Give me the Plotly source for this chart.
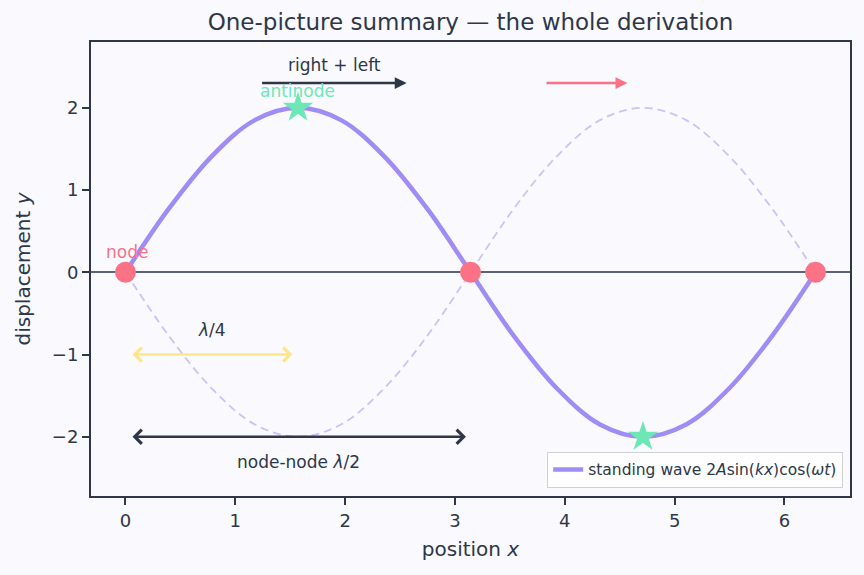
import plotly.graph_objects as go

# ---- data ----
x_samples = [0.0, 0.393, 0.785, 1.178, 1.571, 1.963, 2.356, 2.749, 3.142,
             3.534, 3.927, 4.320, 4.712, 5.105, 5.498, 5.890, 6.283]
standing = [0.0, 0.77, 1.41, 1.85, 2.0, 1.85, 1.41, 0.77, 0.0,
            -0.77, -1.41, -1.85, -2.0, -1.85, -1.41, -0.77, 0.0]
other_extreme = [0.0, -0.77, -1.41, -1.85, -2.0, -1.85, -1.41, -0.77, 0.0,
                 0.77, 1.41, 1.85, 2.0, 1.85, 1.41, 0.77, 0.0]
node_x = [0.0, 3.142, 6.283]
node_y = [0.0, 0.0, 0.0]
antinode_x = [1.571, 4.712]
antinode_y = [2.0, -2.0]
x_ticks = [0, 1, 2, 3, 4, 5, 6]
y_ticks = [-2, -1, 0, 1, 2]

DARK = "#2d3748"
PURPLE = "#a08cf5"
RED = "#fb7185"
GREEN = "#6ee7b7"
YELLOW = "#fde68a"
BG = "#f9f9fe"
FONT = "DejaVu Sans"

fig = go.Figure()
fig.add_trace(go.Scatter(x=x_samples, y=other_extreme, mode="lines",
                         line=dict(color="rgba(160,140,245,0.5)", width=1.8, dash="8px,5px", shape="spline"),
                         showlegend=False, hoverinfo="skip"))
fig.add_trace(go.Scatter(x=x_samples, y=standing, mode="lines",
                         line=dict(color=PURPLE, width=4.5, shape="spline"),
                         name="standing wave 2<i>A</i>sin(<i>kx</i>)cos(<i>ωt</i>)"))
fig.add_trace(go.Scatter(x=node_x, y=node_y, mode="markers",
                         marker=dict(color=RED, size=21, line=dict(width=0)),
                         showlegend=False))
fig.add_trace(go.Scatter(x=antinode_x, y=antinode_y, mode="markers",
                         marker=dict(color=GREEN, symbol="star", size=23, line=dict(width=0)),
                         showlegend=False))

anns = []
def arrow(x0, x1, y, color, width, head, both=False, size=1.0):
    anns.append(dict(x=x1, y=y, ax=x0, ay=y, xref="x", yref="y", axref="x", ayref="y",
                     showarrow=True, arrowhead=head, startarrowhead=head,
                     arrowside="end+start" if both else "end",
                     arrowwidth=width, arrowsize=size, startarrowsize=size,
                     arrowcolor=color, text="", standoff=0, startstandoff=0))

arrow(1.23, 2.56, 2.30, DARK, 2.5, 2, size=0.95)
arrow(3.82, 4.57, 2.30, RED, 2.5, 2, size=0.95)
arrow(0.05, 1.52, -1.0, YELLOW, 2.5, 4, both=True, size=1.1)
arrow(0.05, 3.10, -2.0, DARK, 2.5, 4, both=True, size=1.1)

def label(x, y, text, color, anchor="center", size=17):
    anns.append(dict(x=x, y=y, xref="x", yref="y", text=text, showarrow=False,
                     xanchor=anchor, yanchor="middle",
                     font=dict(family=FONT, size=size, color=color)))

label(1.90, 2.52, "right + left", DARK)
label(-0.20, 0.25, "node", RED, anchor="left")
label(1.21, 2.205, "antinode", GREEN, anchor="left")
label(0.79, -0.70, "<i>λ</i>/4", DARK)
label(1.575, -2.31, "node-node <i>λ</i>/2", DARK)

fig.update_layout(
    width=864, height=575,
    margin=dict(l=91, r=14, t=42, b=79),
    paper_bgcolor=BG, plot_bgcolor=BG,
    font=dict(family=FONT, color=DARK),
    title=dict(text="One-picture summary — the whole derivation",
               x=0.5, xref="paper", xanchor="center", y=0.962, yanchor="middle",
               font=dict(family=FONT, size=23, color=DARK)),
    annotations=anns,
    legend=dict(x=0.991, y=0.018, xanchor="right", yanchor="bottom",
                bgcolor="rgba(255,255,255,0.8)", bordercolor="#d0d0d0", borderwidth=1,
                font=dict(family=FONT, size=15.5, color=DARK)),
    showlegend=True,
)
fig.update_xaxes(range=[-0.314, 6.597], tickvals=x_ticks, ticks="outside", ticklen=7, tickwidth=1.6,
                 tickcolor=DARK, showline=True, linecolor=DARK, linewidth=2, mirror=True,
                 showgrid=False, zeroline=False,
                 tickfont=dict(family=FONT, size=18, color=DARK),
                 title=dict(text="position <i>x</i>", standoff=12, font=dict(family=FONT, size=20, color=DARK)))
fig.update_yaxes(range=[-2.72, 2.80], tickvals=y_ticks, ticks="outside", ticklen=7, tickwidth=1.6,
                 tickcolor=DARK, showline=True, linecolor=DARK, linewidth=2, mirror=True,
                 showgrid=False, zeroline=True, zerolinecolor="#5a6478", zerolinewidth=1.5,
                 tickfont=dict(family=FONT, size=18, color=DARK),
                 title=dict(text="displacement <i>y</i>", standoff=16, font=dict(family=FONT, size=20, color=DARK)))

fig.write_html("out.html")
